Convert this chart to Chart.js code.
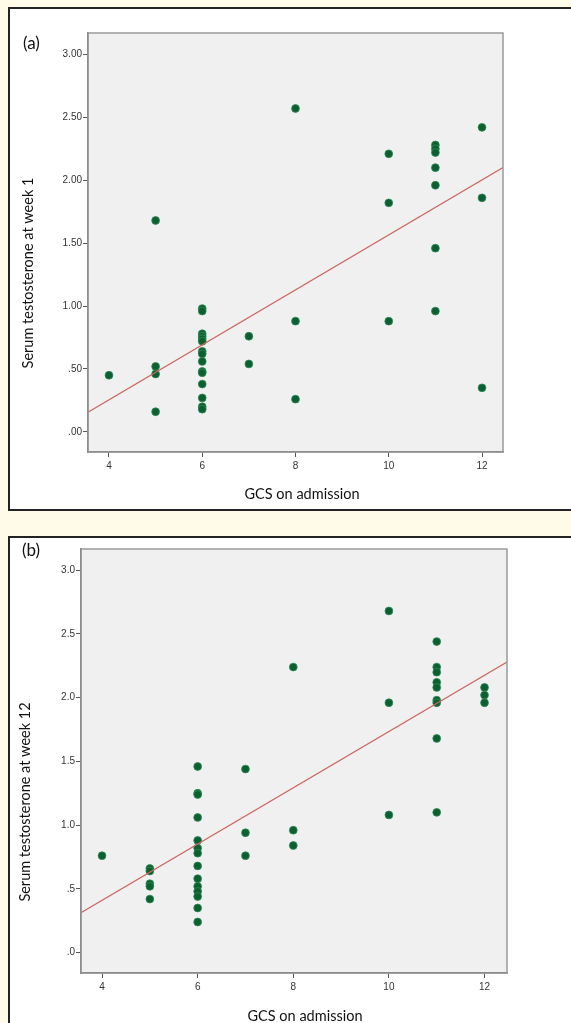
<!DOCTYPE html>
<html>
<head>
<meta charset="utf-8">
<script src="https://cdn.jsdelivr.net/npm/chart.js@4.4.1/dist/chart.umd.min.js"></script>
<style>
  body { margin: 0; background: #fffbe8; width: 571px; height: 1023px; overflow: hidden; position: relative; }
  .box { position: absolute; left: 8px; width: 620px; background: #fff; border: 2px solid #222; }
  canvas { position: absolute; left: 0; }
</style>
</head>
<body>
<div class="box" style="top:7px;height:500px"></div>
<div class="box" style="top:536px;height:520px"></div>
<canvas id="chartA" style="top:0;width:571px;height:512px" width="571" height="512"></canvas>
<canvas id="chartB" style="top:520px;width:571px;height:503px" width="571" height="503"></canvas>
<script>
// GCS on admission (x) and serum testosterone (y)
const gcsWeek1 = [4, 5, 5, 5, 5,
    6, 6, 6, 6, 6, 6, 6, 6, 6, 6, 6, 6, 6, 6, 6,
    7, 7, 8, 8, 8, 10, 10, 10,
    11, 11, 11, 11, 11, 11, 11, 12, 12, 12];
const testoWeek1 = [0.45, 1.68, 0.52, 0.46, 0.16,
    0.98, 0.96, 0.78, 0.76, 0.74, 0.72, 0.64, 0.62, 0.56, 0.48, 0.47, 0.38, 0.27, 0.20, 0.18,
    0.76, 0.54, 2.57, 0.88, 0.26, 2.21, 1.82, 0.88,
    2.28, 2.25, 2.22, 2.10, 1.96, 1.46, 0.96, 2.42, 1.86, 0.35];

const gcsWeek12 = [4, 5, 5, 5, 5, 5,
    6, 6, 6, 6, 6, 6, 6, 6, 6, 6, 6, 6, 6, 6,
    7, 7, 7, 8, 8, 8, 10, 10, 10,
    11, 11, 11, 11, 11, 11, 11, 11, 11, 12, 12, 12];
const testoWeek12 = [0.76, 0.66, 0.64, 0.54, 0.52, 0.42,
    1.46, 1.25, 1.24, 1.06, 0.88, 0.82, 0.78, 0.68, 0.58, 0.52, 0.48, 0.44, 0.35, 0.24,
    1.44, 0.94, 0.76, 2.24, 0.96, 0.84, 2.68, 1.96, 1.08,
    2.44, 2.24, 2.20, 2.12, 2.08, 1.98, 1.96, 1.68, 1.10, 2.08, 2.02, 1.96];

// fit lines (intercept, slope)
const fitWeek1 = [-0.619, 0.2184];
const fitWeek12 = [-0.472, 0.2207];

const xTicks = [4, 6, 8, 10, 12];
const yTicks = [0, 0.5, 1, 1.5, 2, 2.5, 3];
const yLabelsWeek1 = ['.00', '.50', '1.00', '1.50', '2.00', '2.50', '3.00'];
const yLabelsWeek12 = ['.0', '.5', '1.0', '1.5', '2.0', '2.5', '3.0'];

const textFont = '14.5px Lato, "Open Sans", sans-serif';

// grey plot background, frame and the free-standing labels
const framePlugin = {
    id: 'frame',
    beforeDraw(chart) {
        const a = chart.chartArea, ctx = chart.ctx;
        ctx.save();
        ctx.fillStyle = '#f0f0f0';
        ctx.fillRect(a.left, a.top, a.right - a.left, a.bottom - a.top);
        ctx.restore();
    },
    afterDraw(chart, args, opts) {
        const a = chart.chartArea, ctx = chart.ctx;
        ctx.save();
        ctx.strokeStyle = '#9a9a9a';
        ctx.lineWidth = 1.5;
        ctx.strokeRect(a.left, a.top, a.right - a.left, a.bottom - a.top);

        ctx.fillStyle = '#111';
        ctx.font = '17px Lato, "Open Sans", sans-serif';
        ctx.textAlign = 'left';
        ctx.textBaseline = 'middle';
        ctx.fillText(opts.panel, opts.panelPos[0], opts.panelPos[1]);

        ctx.font = textFont;
        ctx.textAlign = 'center';
        ctx.fillText(opts.xTitle, opts.xTitlePos[0], opts.xTitlePos[1]);

        ctx.translate(opts.yTitlePos[0], opts.yTitlePos[1]);
        ctx.rotate(-Math.PI / 2);
        ctx.fillText(opts.yTitle, 0, 0);
        ctx.restore();
    }
};

function buildPanel(canvasId, xs, ys, fit, yLabels, layout) {
    const points = xs.map((x, i) => ({ x: x, y: ys[i] }));
    const fitLine = [layout.xMin, layout.xMax].map(x => ({ x: x, y: fit[0] + fit[1] * x }));

    return new Chart(document.getElementById(canvasId), {
        type: 'scatter',
        data: {
            datasets: [{
                data: points,
                pointRadius: 3.9,
                pointBackgroundColor: '#0b5f30',
                pointBorderColor: '#2f8a55',
                pointBorderWidth: 0.8,
                order: 1
            }, {
                data: fitLine,
                showLine: true,
                pointRadius: 0,
                borderColor: '#cc6660',
                borderWidth: 1.2,
                order: 0
            }]
        },
        options: {
            responsive: false,
            animation: false,
            events: [],
            layout: { padding: layout.padding },
            plugins: {
                legend: { display: false },
                tooltip: { enabled: false },
                frame: layout.labels
            },
            scales: {
                x: {
                    type: 'linear',
                    min: layout.xMin,
                    max: layout.xMax,
                    afterBuildTicks: s => { s.ticks = xTicks.map(v => ({ value: v })); },
                    afterFit: s => { s.height = 20; },
                    ticks: { color: '#333', font: { size: 10, family: 'Arial, "Liberation Sans"' }, padding: 3, maxRotation: 0 },
                    grid: { drawOnChartArea: false, tickLength: 5, color: '#555' },
                    border: { color: '#666', width: 1.5 }
                },
                y: {
                    type: 'linear',
                    min: layout.yMin,
                    max: layout.yMax,
                    afterBuildTicks: s => { s.ticks = yTicks.map(v => ({ value: v })); },
                    afterFit: s => { s.width = 30; },
                    ticks: {
                        color: '#333',
                        font: { size: 10, family: 'Arial, "Liberation Sans"' },
                        padding: 1,
                        callback: v => yLabels[yTicks.indexOf(v)]
                    },
                    grid: { drawOnChartArea: false, tickLength: 5, color: '#555' },
                    border: { color: '#666', width: 1.5 }
                }
            }
        },
        plugins: [framePlugin]
    });
}

buildPanel('chartA', gcsWeek1, testoWeek1, fitWeek1, yLabelsWeek1, {
    xMin: 3.55, xMax: 12.45, yMin: -0.16, yMax: 3.17,
    padding: { left: 58, top: 33, right: 68, bottom: 40 },
    labels: {
        panel: '(a)', panelPos: [23, 44],
        xTitle: 'GCS on admission', xTitlePos: [302, 494],
        yTitle: 'Serum testosterone at week 1', yTitlePos: [28, 273]
    }
});

buildPanel('chartB', gcsWeek12, testoWeek12, fitWeek12, yLabelsWeek12, {
    xMin: 3.56, xMax: 12.47, yMin: -0.16, yMax: 3.166,
    padding: { left: 51, top: 29, right: 64, bottom: 30 },
    labels: {
        panel: '(b)', panelPos: [22, 31],
        xTitle: 'GCS on admission', xTitlePos: [305, 496],
        yTitle: 'Serum testosterone at week 12', yTitlePos: [25, 282]
    }
});
</script>
</body>
</html>
